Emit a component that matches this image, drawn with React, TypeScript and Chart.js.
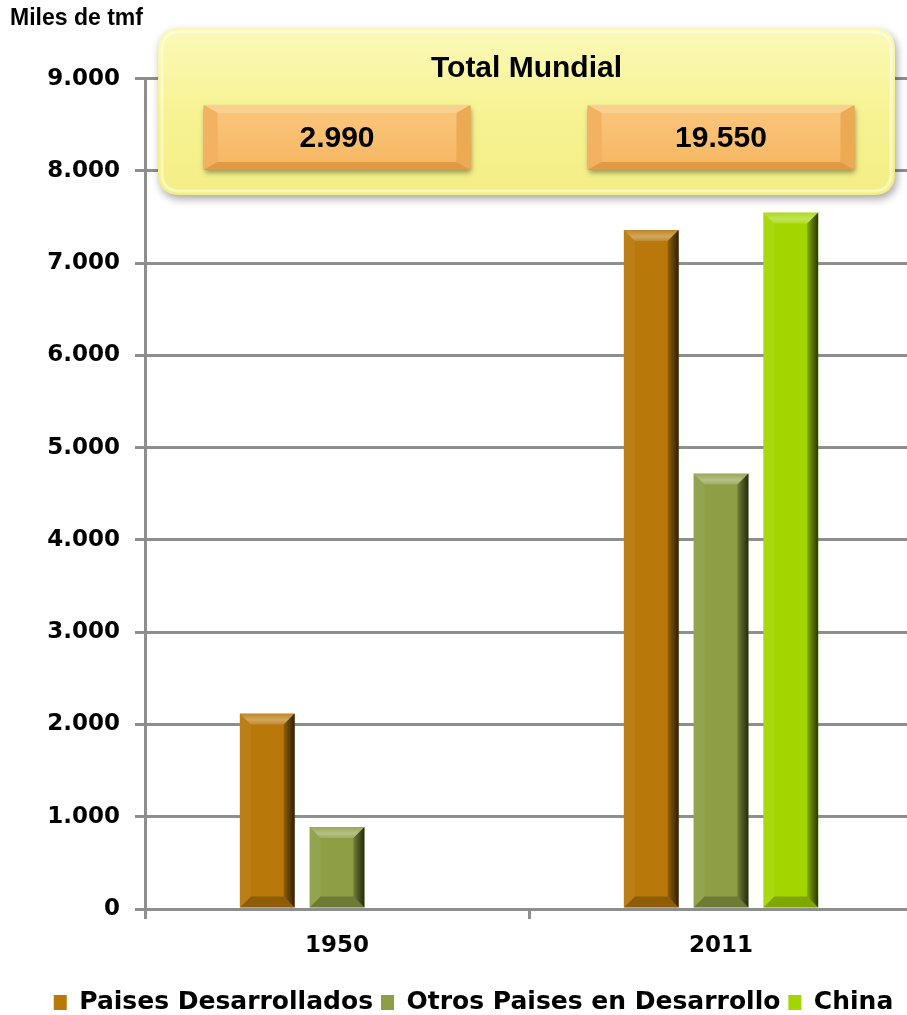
import React, { useEffect, useRef } from "react";
import { Chart, registerables } from "chart.js";

Chart.register(...registerables);

const categories = ["1950", "2011"];
const seriesNames = ["Paises Desarrollados", "Otros Paises en Desarrollo", "China"];
const desarrollados = [2120, 7360];
const otros = [890, 4720];
const china = [0, 7550];
const totalLabels = ["2.990", "19.550"];
const boxTitle = "Total Mundial";
const axisTitle = "Miles de tmf";
const colors = ["#B8780A", "#8E9E45", "#A3D600"];

function roundRect(ctx: CanvasRenderingContext2D, x: number, y: number, w: number, h: number, r: number) {
  ctx.beginPath();
  ctx.moveTo(x + r, y);
  ctx.lineTo(x + w - r, y);
  ctx.quadraticCurveTo(x + w, y, x + w, y + r);
  ctx.lineTo(x + w, y + h - r);
  ctx.quadraticCurveTo(x + w, y + h, x + w - r, y + h);
  ctx.lineTo(x + r, y + h);
  ctx.quadraticCurveTo(x, y + h, x, y + h - r);
  ctx.lineTo(x, y + r);
  ctx.quadraticCurveTo(x, y, x + r, y);
  ctx.closePath();
}

function poly(ctx: CanvasRenderingContext2D, pts: number[][], fill: any) {
  ctx.beginPath();
  ctx.moveTo(pts[0][0], pts[0][1]);
  for (let i = 1; i < pts.length; i++) ctx.lineTo(pts[i][0], pts[i][1]);
  ctx.closePath();
  ctx.fillStyle = fill;
  ctx.fill();
}

const bevelPlugin = {
  id: "bevel",
  afterDatasetsDraw(chart: any) {
    const ctx: CanvasRenderingContext2D = chart.ctx;
    chart.data.datasets.forEach((_ds: any, i: number) => {
      const meta = chart.getDatasetMeta(i);
      meta.data.forEach((el: any) => {
        const { x, y, base, width } = el.getProps(["x", "y", "base", "width"], true);
        const x1 = x - width / 2, x2 = x + width / 2;
        const top = Math.min(y, base), bot = Math.max(y, base);
        const h = bot - top;
        if (h < 2) return;
        const b = Math.min(11, h / 2, width / 2);
        ctx.save();
        const tg = ctx.createLinearGradient(0, top, 0, top + b);
        tg.addColorStop(0, "rgba(255,255,255,0.1)");
        tg.addColorStop(0.6, "rgba(255,255,255,0.35)");
        tg.addColorStop(1, "rgba(255,255,255,0.15)");
        poly(ctx, [[x1, top], [x2, top], [x2 - b, top + b], [x1 + b, top + b]], tg);
        poly(ctx, [[x1, top], [x1 + b, top + b], [x1 + b, bot - b], [x1, bot]], "rgba(255,255,255,0.06)");
        poly(ctx, [[x1, bot], [x1 + b, bot - b], [x2 - b, bot - b], [x2, bot]], "rgba(0,0,0,0.22)");
        const g = ctx.createLinearGradient(x2 - b, 0, x2, 0);
        g.addColorStop(0, "rgba(0,0,0,0.2)");
        g.addColorStop(1, "rgba(0,0,0,0.75)");
        poly(ctx, [[x2 - b, top + b], [x2, top], [x2, bot], [x2 - b, bot - b]], g);
        ctx.restore();
      });
    });
  },
};

const legendShiftPlugin = {
  id: "legendShift",
  afterLayout(chart: any) {
    if (chart.legend) {
      chart.legend.left += 12;
      chart.legend.right += 12;
    }
  },
};

const totalsPlugin = {
  id: "totals",
  afterDraw(chart: any) {
    const ctx: CanvasRenderingContext2D = chart.ctx;
    const xs = chart.scales.x;
    ctx.save();
    const bx = 158, by = 28, bw = 737, bh = 167;
    ctx.shadowColor = "rgba(0,0,0,0.35)";
    ctx.shadowBlur = 8;
    ctx.shadowOffsetX = 2;
    ctx.shadowOffsetY = 4;
    roundRect(ctx, bx, by, bw, bh, 22);
    const yg = ctx.createLinearGradient(0, by, 0, by + bh);
    yg.addColorStop(0, "#FBF9B8");
    yg.addColorStop(0.5, "#F7F394");
    yg.addColorStop(1, "#F3EE84");
    ctx.fillStyle = yg;
    ctx.fill();
    ctx.shadowColor = "transparent";
    roundRect(ctx, bx + 4, by + 4, bw - 8, bh - 8, 18);
    ctx.strokeStyle = "rgba(255,255,240,0.5)";
    ctx.lineWidth = 3;
    ctx.stroke();

    ctx.fillStyle = "#000";
    ctx.textAlign = "center";
    ctx.textBaseline = "middle";
    ctx.font = "bold 30px 'Liberation Sans', Arial, sans-serif";
    ctx.fillText(boxTitle, bx + bw / 2, 69);

    totalLabels.forEach((lab, i) => {
      const cx = xs.getPixelForValue(i);
      const w = 267, h = 65;
      const ox = cx - w / 2, oy = 105;
      ctx.save();
      ctx.shadowColor = "rgba(0,0,0,0.35)";
      ctx.shadowBlur = 5;
      ctx.shadowOffsetX = 1;
      ctx.shadowOffsetY = 3;
      roundRect(ctx, ox, oy, w, h, 4);
      ctx.fillStyle = "#EFA94E";
      ctx.fill();
      ctx.restore();
      const bxv = 14, byv = 8;
      poly(ctx, [[ox, oy], [ox + w, oy], [ox + w - bxv, oy + byv], [ox + bxv, oy + byv]], "#FAD08F");
      poly(ctx, [[ox, oy], [ox + bxv, oy + byv], [ox + bxv, oy + h - byv], [ox, oy + h]], "#F2B261");
      poly(ctx, [[ox + w, oy], [ox + w - bxv, oy + byv], [ox + w - bxv, oy + h - byv], [ox + w, oy + h]], "#EDAA55");
      poly(ctx, [[ox, oy + h], [ox + bxv, oy + h - byv], [ox + w - bxv, oy + h - byv], [ox + w, oy + h]], "#E09A43");
      const ig = ctx.createLinearGradient(0, oy + byv, 0, oy + h - byv);
      ig.addColorStop(0, "#FAC57A");
      ig.addColorStop(1, "#F6B865");
      ctx.fillStyle = ig;
      ctx.fillRect(ox + bxv, oy + byv, w - 2 * bxv, h - 2 * byv);
      ctx.fillStyle = "#000";
      ctx.font = "bold 30px 'Liberation Sans', Arial, sans-serif";
      ctx.fillText(lab, cx, oy + h / 2 + 1);
    });
    ctx.restore();
  },
};

function fmt(v: number) {
  return String(v).replace(/\B(?=(\d{3})+(?!\d))/g, ".");
}

export default function App() {
  const ref = useRef<HTMLCanvasElement | null>(null);
  useEffect(() => {
    if (!ref.current) return;
    const grey = "#8E8E8E";
    const chart = new Chart(ref.current, {
      type: "bar",
      data: {
        labels: categories,
        datasets: [
          { label: seriesNames[0], data: desarrollados, backgroundColor: colors[0] },
          { label: seriesNames[1], data: otros, backgroundColor: colors[1] },
          { label: seriesNames[2], data: china, backgroundColor: colors[2] },
        ],
      },
      options: {
        responsive: false,
        animation: false,
        layout: { padding: { left: 10, right: 2, top: 0, bottom: 0 } },
        datasets: { bar: { categoryPercentage: 0.545, barPercentage: 0.786 } },
        scales: {
          x: {
            grid: { display: true, drawOnChartArea: false, drawTicks: true, tickLength: 10, color: grey, lineWidth: 3, offset: true },
            border: { display: true, color: grey, width: 3 },
            ticks: { color: "#000", padding: 13, font: { family: "'DejaVu Sans', sans-serif", weight: "bold", size: 23 } },
            afterFit: (s: any) => { s.height = 73; },
          },
          y: {
            min: 0,
            max: 9000,
            grid: { color: grey, lineWidth: 3, tickLength: 10 },
            border: { display: true, color: grey, width: 3 },
            ticks: {
              stepSize: 1000,
              color: "#000",
              padding: 15,
              font: { family: "'DejaVu Sans', sans-serif", weight: "bold", size: 23 },
              callback: (v: any) => fmt(Number(v)),
            },
            afterFit: (s: any) => { s.width = 135; },
          },
        },
        plugins: {
          title: {
            display: true,
            text: axisTitle,
            align: "start",
            color: "#000",
            font: { family: "'Liberation Sans', Arial, sans-serif", weight: "bold", size: 23 },
            padding: { top: 5, bottom: 46 },
          },
          legend: {
            position: "bottom",
            labels: {
              color: "#000",
              boxWidth: 13,
              boxHeight: 15,
              padding: 8,
              font: { family: "'DejaVu Sans', sans-serif", weight: "bold", size: 25 },
            },
          },
          tooltip: { enabled: false },
        },
      } as any,
      plugins: [bevelPlugin, totalsPlugin, legendShiftPlugin],
    });
    return () => chart.destroy();
  }, []);
  return (
    <div style={{ position: "absolute", left: 0, top: 0, width: 907, height: 1015, overflow: "hidden", background: "#fff" }}>
      <canvas ref={ref} width={915} height={1025} style={{ display: "block" }} />
    </div>
  );
}
